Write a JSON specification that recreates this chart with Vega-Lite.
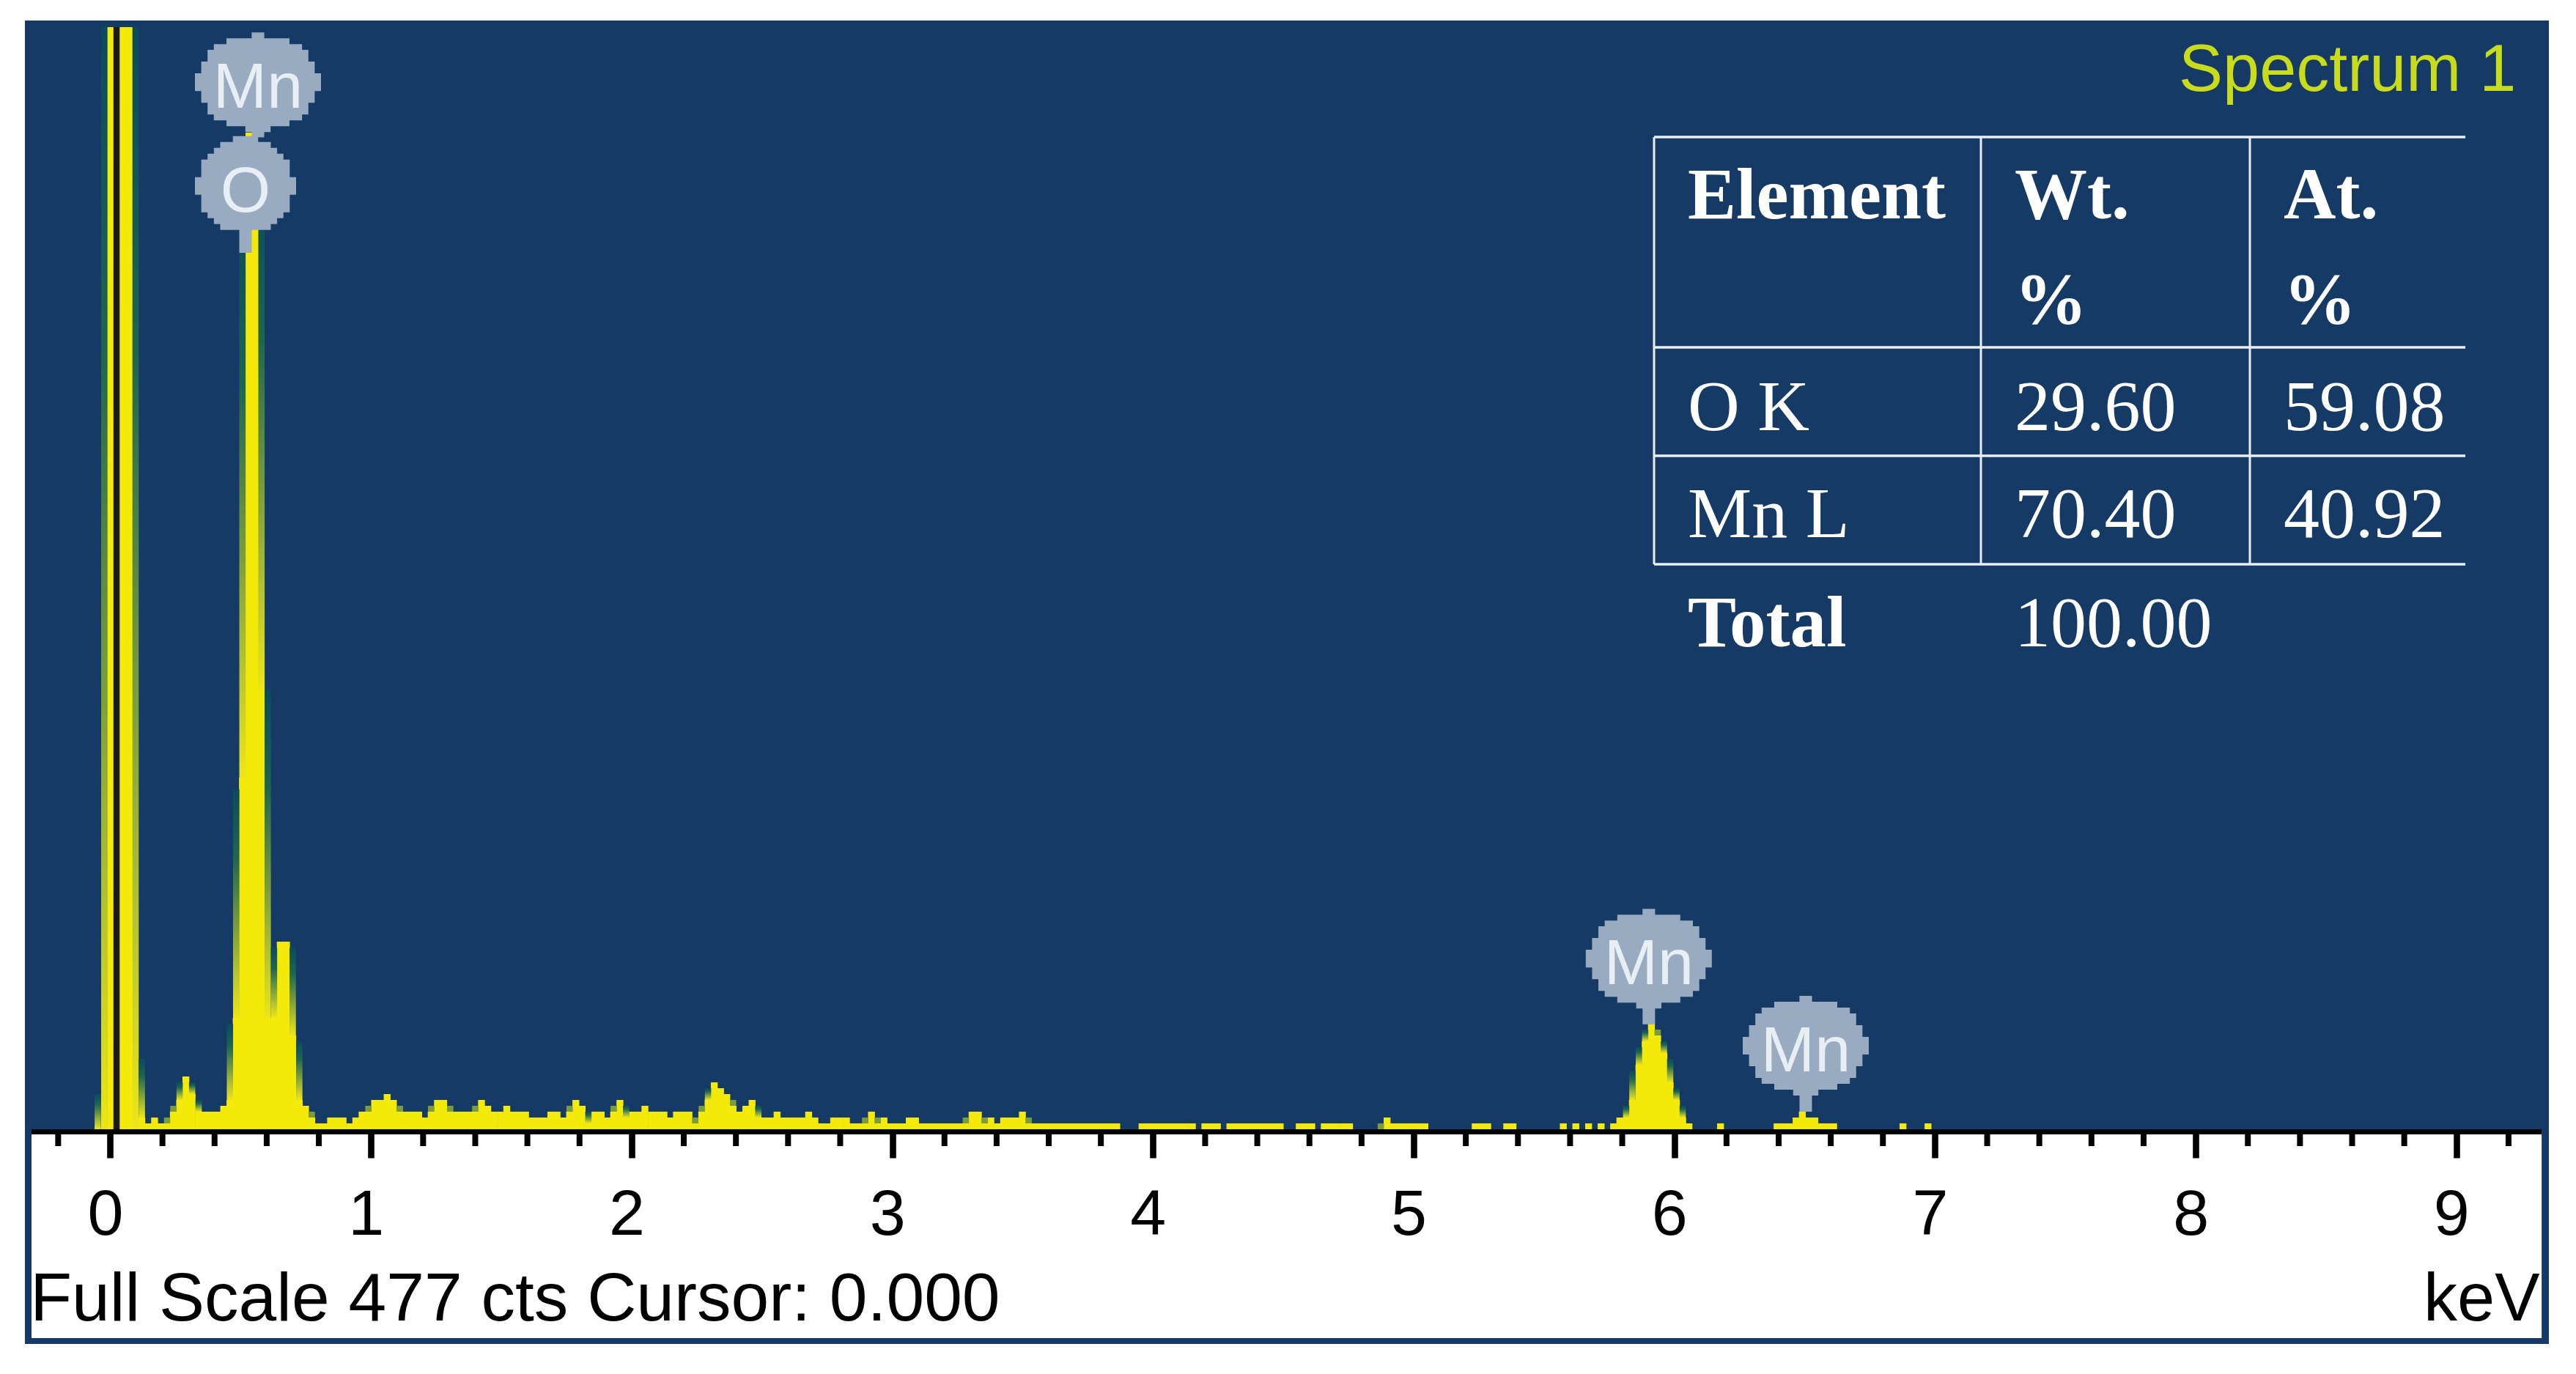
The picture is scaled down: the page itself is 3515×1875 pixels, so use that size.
{
  "$schema": "https://vega.github.io/schema/vega-lite/v6.json",
  "description": "EDS spectrum with element table",
  "autosize": {"type": "none"},
  "padding": {"left": 34, "top": 28, "right": 37, "bottom": 41},
  "width": 3444,
  "height": 1806,
  "background": "#ffffff",
  "view": {"fill": "#153a66", "stroke": null},
  "datasets": {
    "spectrum": [
      {"keV":0.001,"cts":188},{"keV":0.025,"cts":188},{"keV":0.049,"cts":188},{"keV":0.073,"cts":188},
      {"keV":0.121,"cts":2},{"keV":0.146,"cts":1},{"keV":0.170,"cts":2},{"keV":0.194,"cts":1},{"keV":0.218,"cts":1},
      {"keV":0.242,"cts":3},{"keV":0.266,"cts":5},{"keV":0.290,"cts":9},{"keV":0.314,"cts":6},{"keV":0.339,"cts":3},
      {"keV":0.363,"cts":3},{"keV":0.387,"cts":3},{"keV":0.411,"cts":3},{"keV":0.435,"cts":4},{"keV":0.459,"cts":5},
      {"keV":0.483,"cts":19},{"keV":0.507,"cts":60},{"keV":0.532,"cts":170},{"keV":0.556,"cts":155},{"keV":0.580,"cts":75},
      {"keV":0.604,"cts":19},{"keV":0.628,"cts":19},{"keV":0.652,"cts":32},{"keV":0.676,"cts":32},{"keV":0.700,"cts":16},
      {"keV":0.725,"cts":5},{"keV":0.749,"cts":4},{"keV":0.773,"cts":2},{"keV":0.797,"cts":1},{"keV":0.821,"cts":1},
      {"keV":0.845,"cts":2},{"keV":0.869,"cts":2},{"keV":0.893,"cts":2},{"keV":0.918,"cts":1},{"keV":0.942,"cts":2},
      {"keV":0.966,"cts":3},{"keV":0.990,"cts":3},{"keV":1.014,"cts":5},{"keV":1.038,"cts":5},{"keV":1.062,"cts":6},
      {"keV":1.086,"cts":5},{"keV":1.111,"cts":3},{"keV":1.135,"cts":3},{"keV":1.159,"cts":3},{"keV":1.183,"cts":3},
      {"keV":1.207,"cts":2},{"keV":1.231,"cts":3},{"keV":1.255,"cts":5},{"keV":1.279,"cts":5},{"keV":1.304,"cts":3},
      {"keV":1.328,"cts":3},{"keV":1.352,"cts":3},{"keV":1.376,"cts":3},{"keV":1.400,"cts":3},{"keV":1.424,"cts":5},
      {"keV":1.448,"cts":4},{"keV":1.472,"cts":3},{"keV":1.497,"cts":3},{"keV":1.521,"cts":4},{"keV":1.545,"cts":3},
      {"keV":1.569,"cts":3},{"keV":1.593,"cts":3},{"keV":1.617,"cts":2},{"keV":1.641,"cts":2},{"keV":1.665,"cts":2},
      {"keV":1.690,"cts":3},{"keV":1.714,"cts":3},{"keV":1.738,"cts":2},{"keV":1.762,"cts":3},{"keV":1.786,"cts":5},
      {"keV":1.810,"cts":4},{"keV":1.834,"cts":1},{"keV":1.858,"cts":3},{"keV":1.883,"cts":3},{"keV":1.907,"cts":2},
      {"keV":1.931,"cts":3},{"keV":1.955,"cts":5},{"keV":1.979,"cts":2},{"keV":2.003,"cts":3},{"keV":2.027,"cts":3},
      {"keV":2.051,"cts":4},{"keV":2.076,"cts":3},{"keV":2.100,"cts":3},{"keV":2.124,"cts":3},{"keV":2.148,"cts":2},
      {"keV":2.172,"cts":3},{"keV":2.196,"cts":3},{"keV":2.220,"cts":3},{"keV":2.244,"cts":1},{"keV":2.269,"cts":3},
      {"keV":2.293,"cts":5},{"keV":2.317,"cts":8},{"keV":2.341,"cts":7},{"keV":2.365,"cts":6},{"keV":2.389,"cts":4},
      {"keV":2.413,"cts":3},{"keV":2.438,"cts":4},{"keV":2.462,"cts":5},{"keV":2.486,"cts":2},{"keV":2.510,"cts":2},
      {"keV":2.534,"cts":2},{"keV":2.558,"cts":3},{"keV":2.582,"cts":2},{"keV":2.606,"cts":2},{"keV":2.631,"cts":2},
      {"keV":2.655,"cts":2},{"keV":2.679,"cts":3},{"keV":2.703,"cts":2},{"keV":2.727,"cts":1},{"keV":2.751,"cts":1},
      {"keV":2.775,"cts":2},{"keV":2.799,"cts":2},{"keV":2.824,"cts":2},{"keV":2.848,"cts":1},{"keV":2.872,"cts":1},
      {"keV":2.896,"cts":1},{"keV":2.920,"cts":3},{"keV":2.944,"cts":1},{"keV":2.968,"cts":2},{"keV":2.992,"cts":1},
      {"keV":3.017,"cts":1},{"keV":3.041,"cts":1},{"keV":3.065,"cts":2},{"keV":3.089,"cts":2},{"keV":3.113,"cts":1},
      {"keV":3.137,"cts":1},{"keV":3.161,"cts":1},{"keV":3.185,"cts":1},{"keV":3.210,"cts":1},{"keV":3.234,"cts":1},
      {"keV":3.258,"cts":1},{"keV":3.282,"cts":1},{"keV":3.306,"cts":3},{"keV":3.330,"cts":3},{"keV":3.354,"cts":1},
      {"keV":3.378,"cts":2},{"keV":3.403,"cts":1},{"keV":3.427,"cts":2},{"keV":3.451,"cts":2},{"keV":3.475,"cts":2},
      {"keV":3.499,"cts":3},{"keV":3.523,"cts":1},{"keV":3.547,"cts":1},{"keV":3.571,"cts":1},{"keV":3.596,"cts":1},
      {"keV":3.620,"cts":1},{"keV":3.644,"cts":1},{"keV":3.668,"cts":1},{"keV":3.692,"cts":1},{"keV":3.716,"cts":1},
      {"keV":3.740,"cts":1},{"keV":3.764,"cts":1},{"keV":3.789,"cts":1},{"keV":3.813,"cts":1},{"keV":3.837,"cts":1},
      {"keV":3.861,"cts":1},{"keV":3.958,"cts":1},{"keV":3.982,"cts":1},{"keV":4.006,"cts":1},{"keV":4.030,"cts":1},
      {"keV":4.054,"cts":1},{"keV":4.078,"cts":1},{"keV":4.102,"cts":1},{"keV":4.126,"cts":1},{"keV":4.151,"cts":1},
      {"keV":4.199,"cts":1},{"keV":4.223,"cts":1},{"keV":4.247,"cts":1},{"keV":4.295,"cts":1},{"keV":4.319,"cts":1},
      {"keV":4.344,"cts":1},{"keV":4.368,"cts":1},{"keV":4.392,"cts":1},{"keV":4.416,"cts":1},{"keV":4.440,"cts":1},
      {"keV":4.464,"cts":1},{"keV":4.488,"cts":1},{"keV":4.561,"cts":1},{"keV":4.585,"cts":1},{"keV":4.609,"cts":1},
      {"keV":4.657,"cts":1},{"keV":4.681,"cts":1},{"keV":4.705,"cts":1},{"keV":4.730,"cts":1},{"keV":4.754,"cts":1},
      {"keV":4.898,"cts":2},{"keV":4.923,"cts":1},{"keV":4.947,"cts":1},{"keV":4.971,"cts":1},{"keV":4.995,"cts":1},
      {"keV":5.019,"cts":1},{"keV":5.043,"cts":1},{"keV":5.236,"cts":1},{"keV":5.260,"cts":1},{"keV":5.284,"cts":1},
      {"keV":5.357,"cts":1},{"keV":5.381,"cts":1},{"keV":5.574,"cts":1},{"keV":5.622,"cts":1},{"keV":5.671,"cts":1},
      {"keV":5.719,"cts":1},{"keV":5.767,"cts":1},{"keV":5.791,"cts":2},{"keV":5.815,"cts":2},{"keV":5.839,"cts":5},
      {"keV":5.864,"cts":11},{"keV":5.888,"cts":15},{"keV":5.912,"cts":18},{"keV":5.936,"cts":16},{"keV":5.960,"cts":13},
      {"keV":5.984,"cts":8},{"keV":6.008,"cts":5},{"keV":6.032,"cts":2},{"keV":6.056,"cts":1},{"keV":6.177,"cts":1},
      {"keV":6.394,"cts":1},{"keV":6.418,"cts":1},{"keV":6.443,"cts":1},{"keV":6.467,"cts":2},{"keV":6.491,"cts":3},
      {"keV":6.515,"cts":2},{"keV":6.539,"cts":2},{"keV":6.563,"cts":1},{"keV":6.587,"cts":1},{"keV":6.611,"cts":1},
      {"keV":6.877,"cts":1},{"keV":6.973,"cts":1}
    ],
    "halo": [
      {"keV":-0.048,"low":0,"high":6},{"keV":-0.023,"low":0,"high":188},{"keV":0.097,"low":0,"high":188},
      {"keV":0.121,"low":2,"high":12},{"keV":0.218,"low":1,"high":2},{"keV":0.242,"low":3,"high":4},
      {"keV":0.266,"low":5,"high":8},{"keV":0.314,"low":6,"high":8},{"keV":0.339,"low":3,"high":5},
      {"keV":0.459,"low":5,"high":18},{"keV":0.483,"low":19,"high":58},{"keV":0.507,"low":60,"high":155},
      {"keV":0.580,"low":75,"high":160},{"keV":0.604,"low":19,"high":75},{"keV":0.628,"low":19,"high":31},
      {"keV":0.700,"low":16,"high":31},{"keV":0.725,"low":5,"high":15},{"keV":0.773,"low":2,"high":3},
      {"keV":0.990,"low":3,"high":4},{"keV":1.111,"low":3,"high":4},{"keV":1.231,"low":3,"high":4},
      {"keV":1.304,"low":3,"high":4},{"keV":1.400,"low":3,"high":4},{"keV":1.762,"low":3,"high":4},
      {"keV":1.834,"low":1,"high":3},{"keV":1.931,"low":3,"high":4},{"keV":1.979,"low":2,"high":4},
      {"keV":2.244,"low":1,"high":2},{"keV":2.269,"low":3,"high":4},{"keV":2.293,"low":5,"high":7},
      {"keV":2.389,"low":4,"high":5},{"keV":2.486,"low":2,"high":4},{"keV":2.896,"low":1,"high":2},
      {"keV":2.944,"low":1,"high":2},{"keV":3.282,"low":1,"high":2},{"keV":3.354,"low":1,"high":2},
      {"keV":3.523,"low":1,"high":2},{"keV":4.874,"low":0,"high":1},{"keV":5.815,"low":2,"high":4},
      {"keV":5.839,"low":5,"high":10},{"keV":5.864,"low":11,"high":14},{"keV":5.888,"low":15,"high":17},
      {"keV":5.936,"low":16,"high":17},{"keV":5.960,"low":13,"high":15},{"keV":5.984,"low":8,"high":12},
      {"keV":6.008,"low":5,"high":7},{"keV":6.032,"low":2,"high":4}
    ],
    "minorTicks": [
      {"keV":-0.2},{"keV":0.2},{"keV":0.4},{"keV":0.6},{"keV":0.8},{"keV":1.2},{"keV":1.4},{"keV":1.6},{"keV":1.8},
      {"keV":2.2},{"keV":2.4},{"keV":2.6},{"keV":2.8},{"keV":3.2},{"keV":3.4},{"keV":3.6},{"keV":3.8},
      {"keV":4.2},{"keV":4.4},{"keV":4.6},{"keV":4.8},{"keV":5.2},{"keV":5.4},{"keV":5.6},{"keV":5.8},
      {"keV":6.2},{"keV":6.4},{"keV":6.6},{"keV":6.8},{"keV":7.2},{"keV":7.4},{"keV":7.6},{"keV":7.8},
      {"keV":8.2},{"keV":8.4},{"keV":8.6},{"keV":8.8},{"keV":9.2}
    ],
    "markers": [
      {"element":"Mn","keV":0.5665,"cts":179.1},
      {"element":"O","keV":0.5187,"cts":161.4},
      {"element":"Mn","keV":5.902,"cts":29.6},
      {"element":"Mn","keV":6.504,"cts":14.75}
    ],
    "stems": [
      {"keV":0.5665,"from":171.3,"to":169.2},
      {"keV":0.5187,"from":153.6,"to":149.5},
      {"keV":5.902,"from":22,"to":17.9},
      {"keV":6.504,"from":7,"to":3}
    ],
    "captions": [
      {"label":"Full Scale 477 cts Cursor: 0.000","keV":-0.307,"cts":-32.6}
    ],
    "tableRows": [{"row":0},{"row":1},{"row":2},{"row":3}],
    "tableCols": [{"col":0},{"col":1},{"col":2}],
    "tableCells": [
      {"col":0,"line":0,"label":"Element","kind":"head"},
      {"col":1,"line":0,"label":"Wt.","kind":"head"},
      {"col":2,"line":0,"label":"At.","kind":"head"},
      {"col":1,"line":1,"label":"%","kind":"head"},
      {"col":2,"line":1,"label":"%","kind":"head"},
      {"col":0,"line":2,"label":"O K","kind":"body"},
      {"col":1,"line":2,"label":"29.60","kind":"body"},
      {"col":2,"line":2,"label":"59.08","kind":"body"},
      {"col":0,"line":3,"label":"Mn L","kind":"body"},
      {"col":1,"line":3,"label":"70.40","kind":"body"},
      {"col":2,"line":3,"label":"40.92","kind":"body"},
      {"col":0,"line":4,"label":"Total","kind":"head"},
      {"col":1,"line":4,"label":"100.00","kind":"body"}
    ]
  },
  "resolve": {"scale": {"x": "independent", "y": "independent"}},
  "layer": [
    {
      "layer": [
        {
          "data": {"name": "spectrum"},
          "mark": {"type": "bar", "width": 9.4, "color": "#f4ea0a", "orient": "vertical"},
          "encoding": {
            "x": {
              "field": "keV",
              "type": "quantitative",
              "scale": {"domain": [-0.3275, 9.3548], "nice": false, "zero": false, "padding": 0},
              "axis": {
                "orient": "bottom",
                "offset": -289.5,
                "values": [0, 1, 2, 3, 4, 5, 6, 7, 8, 9],
                "format": "d",
                "title": null,
                "grid": false,
                "domain": false,
                "tickColor": "#000000",
                "tickSize": 35.5,
                "tickWidth": 8.6,
                "labelFont": "Liberation Sans",
                "labelFontSize": 88,
                "labelColor": "#000000",
                "labelPadding": 34,
                "labelOffset": -7,
                "labelOverlap": false,
                "labelFlush": false,
                "labelBound": false,
                "zindex": 1
              }
            },
            "y": {"field": "cts", "type": "quantitative", "stack": null, "scale": {"domain": [-36.625, 189.125], "nice": false, "zero": false}, "axis": null}
          }
        },
        {
          "data": {"name": "halo"},
          "transform": [{"filter": "datum.high - datum.low > 1"}],
          "mark": {
            "type": "bar",
            "width": 8.6,
            "orient": "vertical",
            "color": {
              "gradient": "linear", "x1": 0, "y1": 0, "x2": 0, "y2": 1,
              "stops": [
                {"offset": 0, "color": "#0b4a60"},
                {"offset": 0.3, "color": "#1f6650"},
                {"offset": 0.55, "color": "#6a9440"},
                {"offset": 0.8, "color": "#b4c232"},
                {"offset": 1, "color": "#ece618"}
              ]
            }
          },
          "encoding": {
            "x": {"field": "keV", "type": "quantitative"},
            "y": {"field": "high", "type": "quantitative", "stack": null, "axis": null},
            "y2": {"field": "low"}
          }
        },
        {
          "data": {"name": "halo"},
          "transform": [{"filter": "datum.high - datum.low <= 1"}],
          "mark": {"type": "bar", "width": 8.6, "orient": "vertical", "color": "#7a9c3c"},
          "encoding": {
            "x": {"field": "keV", "type": "quantitative"},
            "y": {"field": "high", "type": "quantitative", "stack": null, "axis": null},
            "y2": {"field": "low"}
          }
        },
        {
          "data": {"values": [{}]},
          "mark": {"type": "rule", "color": "#1a1a1a", "strokeWidth": 8.5},
          "encoding": {
            "x": {"datum": 0.024, "type": "quantitative"},
            "y": {"datum": 0, "type": "quantitative", "axis": null},
            "y2": {"datum": 188}
          }
        },
        {
          "data": {"values": [{}]},
          "mark": {"type": "rect", "color": "#ffffff"},
          "encoding": {
            "x": {"datum": -0.3022, "type": "quantitative"},
            "x2": {"datum": 9.327},
            "y": {"datum": -0.5, "type": "quantitative", "axis": null},
            "y2": {"datum": -35.625}
          }
        },
        {
          "data": {"values": [{}]},
          "mark": {"type": "rule", "color": "#000000", "strokeWidth": 7},
          "encoding": {
            "x": {"datum": -0.3022, "type": "quantitative"},
            "x2": {"datum": 9.327},
            "y": {"datum": -0.4375, "type": "quantitative", "axis": null}
          }
        },
        {
          "data": {"name": "minorTicks"},
          "mark": {"type": "rule", "color": "#000000", "strokeWidth": 8},
          "encoding": {
            "x": {"field": "keV", "type": "quantitative"},
            "y": {"datum": -0.875, "type": "quantitative", "axis": null},
            "y2": {"datum": -2.875}
          }
        },
        {
          "data": {"name": "stems"},
          "mark": {"type": "rule", "color": "#98abc0", "strokeWidth": 17},
          "encoding": {
            "x": {"field": "keV", "type": "quantitative"},
            "y": {"field": "from", "type": "quantitative", "axis": null},
            "y2": {"field": "to"}
          }
        },
        {
          "data": {"name": "markers"},
          "transform": [{"filter": "datum.element == 'Mn'"}],
          "mark": {
            "type": "point",
            "filled": true,
            "opacity": 1,
            "color": "#98abc0",
            "size": 118336,
            "shape": "M-.05,-.372 H.05 V-.326 H.25 V-.279 H.35 V-.233 H.4 V-.14 H.45 V-.047 H.5 V.093 H.45 V.186 H.4 V.279 H.35 V.326 H.25 V.372 H.1 V.419 H-.1 V.372 H-.25 V.326 H-.35 V.279 H-.4 V.186 H-.45 V.093 H-.5 V-.047 H-.45 V-.14 H-.4 V-.233 H-.35 V-.279 H-.25 V-.326 H-.05 Z"
          },
          "encoding": {
            "x": {"field": "keV", "type": "quantitative"},
            "y": {"field": "cts", "type": "quantitative", "axis": null}
          }
        },
        {
          "data": {"name": "markers"},
          "transform": [{"filter": "datum.element == 'O'"}],
          "mark": {
            "type": "point",
            "filled": true,
            "opacity": 1,
            "color": "#98abc0",
            "size": 76176,
            "shape": "M-.125,-.464 H.125 V-.406 H.25 V-.348 H.3125 V-.29 H.375 V-.232 H.4375 V-.058 H.5 V.116 H.4375 V.29 H.375 V.348 H.3125 V.406 H.25 V.464 H-.25 V.406 H-.3125 V.348 H-.375 V.29 H-.4375 V.116 H-.5 V-.058 H-.4375 V-.232 H-.375 V-.29 H-.3125 V-.348 H-.25 V-.406 H-.125 Z"
          },
          "encoding": {
            "x": {"field": "keV", "type": "quantitative"},
            "y": {"field": "cts", "type": "quantitative", "axis": null}
          }
        },
        {
          "data": {"name": "markers"},
          "mark": {"type": "text", "font": "Liberation Sans", "fontSize": 88, "color": "#e8eff4", "align": "center", "baseline": "alphabetic", "dy": 39},
          "encoding": {
            "x": {"field": "keV", "type": "quantitative"},
            "y": {"field": "cts", "type": "quantitative", "axis": null},
            "text": {"field": "element"}
          }
        },
        {
          "data": {"name": "captions"},
          "mark": {"type": "text", "font": "Liberation Sans", "fontSize": 93, "color": "#000000", "align": "left", "baseline": "alphabetic"},
          "encoding": {
            "x": {"field": "keV", "type": "quantitative"},
            "y": {"field": "cts", "type": "quantitative", "axis": null},
            "text": {"field": "label"}
          }
        },
        {
          "data": {"values": [{"label": "keV", "keV": 9.32, "cts": -32.6}]},
          "mark": {"type": "text", "font": "Liberation Sans", "fontSize": 92, "color": "#000000", "align": "right", "baseline": "alphabetic"},
          "encoding": {
            "x": {"field": "keV", "type": "quantitative"},
            "y": {"field": "cts", "type": "quantitative", "axis": null},
            "text": {"field": "label"}
          }
        },
        {
          "data": {"values": [{"label": "Spectrum 1", "keV": 9.229, "cts": 177.1}]},
          "mark": {"type": "text", "font": "Liberation Sans", "fontSize": 90, "color": "#c9dc1c", "align": "right", "baseline": "alphabetic"},
          "encoding": {
            "x": {"field": "keV", "type": "quantitative"},
            "y": {"field": "cts", "type": "quantitative", "axis": null},
            "text": {"field": "label"}
          }
        }
      ]
    },
    {
      "data": {"name": "tableRows"},
      "mark": {"type": "rule", "color": "#e8eef2", "strokeWidth": 3.5},
      "encoding": {
        "x": {"datum": 0, "type": "quantitative", "axis": null, "scale": {"domain": [0, 1, 2, 3], "range": [2223, 2669, 3036, 3330]}},
        "x2": {"datum": 3},
        "y": {"field": "row", "type": "quantitative", "axis": null, "scale": {"domain": [0, 1, 2, 3], "range": [159, 446, 594, 742]}}
      }
    },
    {
      "data": {"name": "tableCols"},
      "mark": {"type": "rule", "color": "#e8eef2", "strokeWidth": 3},
      "encoding": {
        "x": {"field": "col", "type": "quantitative", "axis": null, "scale": {"domain": [0, 1, 2], "range": [2223, 2669, 3036]}},
        "y": {"datum": 0, "type": "quantitative", "axis": null, "scale": {"domain": [0, 1, 2, 3], "range": [159, 446, 594, 742]}},
        "y2": {"datum": 3}
      }
    },
    {
      "data": {"name": "tableCells"},
      "transform": [{"filter": "datum.kind == 'head'"}],
      "mark": {"type": "text", "font": "Liberation Serif", "fontSize": 99, "fontWeight": "bold", "color": "#ffffff", "align": "left", "baseline": "alphabetic", "dx": 46},
      "encoding": {
        "x": {"field": "col", "type": "quantitative", "axis": null, "scale": {"domain": [0, 1, 2], "range": [2223, 2669, 3036]}},
        "y": {"field": "line", "type": "quantitative", "axis": null, "scale": {"domain": [0, 1, 2, 3, 4], "range": [270, 413, 559, 705, 854]}},
        "text": {"field": "label"}
      }
    },
    {
      "data": {"name": "tableCells"},
      "transform": [{"filter": "datum.kind == 'body'"}],
      "mark": {"type": "text", "font": "Liberation Serif", "fontSize": 98, "color": "#ffffff", "align": "left", "baseline": "alphabetic", "dx": 46},
      "encoding": {
        "x": {"field": "col", "type": "quantitative", "axis": null, "scale": {"domain": [0, 1, 2], "range": [2223, 2669, 3036]}},
        "y": {"field": "line", "type": "quantitative", "axis": null, "scale": {"domain": [0, 1, 2, 3, 4], "range": [270, 413, 559, 705, 854]}},
        "text": {"field": "label"}
      }
    }
  ]
}
